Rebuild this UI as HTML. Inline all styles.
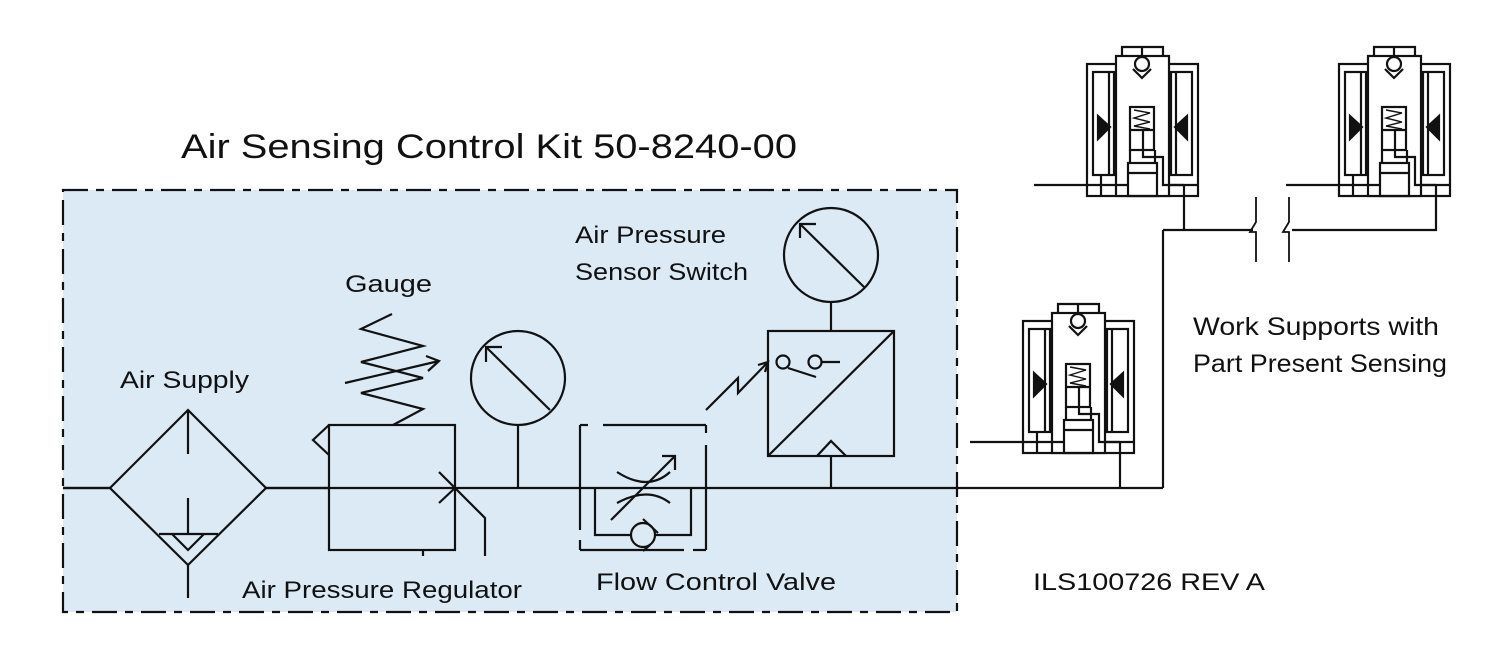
<!DOCTYPE html>
<html><head><meta charset="utf-8"><style>
html,body{margin:0;padding:0;background:#fff;}
svg{display:block;}
text{font-family:"Liberation Sans",sans-serif;fill:#111;}
</style></head><body>
<svg width="1500" height="655" viewBox="0 0 1500 655" xmlns="http://www.w3.org/2000/svg">
<defs>
<g id="ws" fill="none" stroke="#111" stroke-width="2.2">
  <polyline points="1122,56 1122,47 1163,47 1163,56"/>
  <line x1="1142" y1="47" x2="1142" y2="57"/>
  <rect x="1087" y="64" width="111" height="132"/>
  <rect x="1116" y="56" width="53" height="140" fill="#fff"/>
  <rect x="1093" y="72" width="21" height="103"/>
  <line x1="1109" y1="72" x2="1109" y2="175"/>
  <rect x="1171" y="72" width="21" height="103"/>
  <line x1="1176" y1="72" x2="1176" y2="175"/>
  <polygon points="1098,116 1110,127 1098,139" fill="#111"/>
  <polygon points="1187,116 1175,127 1187,139" fill="#111"/>
  <circle cx="1142" cy="64" r="7"/>
  <polyline points="1133,69 1142,78 1151,69"/>
  <rect x="1130" y="107" width="24" height="43"/>
  <line x1="1130" y1="130" x2="1154" y2="130"/>
  <polyline points="1134,110 1150,113 1134,118 1150,122 1134,126 1150,129" stroke-width="1.4"/>
  <rect x="1128" y="163" width="29" height="33"/>
  <line x1="1128" y1="173" x2="1157" y2="173"/>
  <line x1="1130" y1="150" x2="1130" y2="163"/>
  <line x1="1155" y1="150" x2="1155" y2="163"/>
  <polyline points="1143,130 1143,157 1163,157 1163,185 1184,185"/>
  <line x1="1101" y1="175" x2="1101" y2="196"/>
  <line x1="1087" y1="185" x2="1128" y2="185"/>
  <line x1="1169" y1="185" x2="1198" y2="185"/>
</g>
</defs>

<rect x="63" y="190" width="894" height="422" fill="#dceaf6" stroke="#111" stroke-width="2.2" stroke-dasharray="25,8,8,8"/>
<text x="181" y="158" font-size="34" textLength="616" lengthAdjust="spacingAndGlyphs">Air Sensing Control Kit 50-8240-00</text>

<g fill="none" stroke="#111" stroke-width="2.2">
  <line x1="63" y1="488" x2="1163" y2="488"/>
  <polygon points="188,410 266,488 188,565 110,488" fill="#dceaf6"/>
  <line x1="63" y1="488" x2="110" y2="488"/>
  <line x1="266" y1="488" x2="329" y2="488"/>
  <line x1="188" y1="410" x2="188" y2="454"/>
  <line x1="188" y1="498" x2="188" y2="534"/>
  <line x1="159" y1="534" x2="218" y2="534"/>
  <polyline points="172,534 188,550 204,534"/>
  <line x1="188" y1="565" x2="188" y2="598"/>
  <rect x="329" y="425" width="126" height="125"/>
  <polyline points="329,425 313,440 329,455"/>
  <polyline points="393,425 423,409 361,393 423,378 361,362 423,346 361,329 392,314"/>
  <line x1="345" y1="383" x2="439" y2="361"/>
  <polyline points="426,356 439,361 428,371"/>
  <polyline points="439,472 485,518 485,556"/>
  <line x1="439" y1="503" x2="455" y2="488"/>
  <line x1="423" y1="550" x2="423" y2="556"/>
  <circle cx="518" cy="378" r="47"/>
  <line x1="486" y1="347" x2="550" y2="410"/>
  <polyline points="486,362 486,347 502,347"/>
  <line x1="518" y1="425" x2="518" y2="488"/>
  <line x1="580" y1="425" x2="588" y2="425"/>
  <line x1="580" y1="425" x2="580" y2="530"/>
  <line x1="580" y1="540" x2="580" y2="550"/>
  <line x1="580" y1="550" x2="684" y2="550"/>
  <line x1="693" y1="550" x2="706" y2="550"/>
  <line x1="603" y1="425" x2="706" y2="425"/>
  <line x1="706" y1="425" x2="706" y2="433"/>
  <line x1="706" y1="445" x2="706" y2="550"/>
  <polyline points="595,488 595,535 691,535 691,488"/>
  <circle cx="643" cy="535" r="12" fill="#dceaf6"/>
  <line x1="643" y1="519" x2="658" y2="533"/>
  <line x1="643" y1="551" x2="650" y2="545"/>
  <path d="M617,472 Q648,492 670,472"/>
  <path d="M617,503 Q648,486 670,503"/>
  <line x1="611" y1="520" x2="675" y2="456"/>
  <polyline points="662,456 675,456 675,470"/>
  <rect x="768" y="331" width="126" height="125"/>
  <line x1="768" y1="456" x2="894" y2="331"/>
  <circle cx="831" cy="255" r="47"/>
  <line x1="800" y1="224" x2="864" y2="287"/>
  <polyline points="800,238 800,224 816,224"/>
  <line x1="831" y1="302" x2="831" y2="331"/>
  <polyline points="817,456 831,441 846,456"/>
  <line x1="831" y1="456" x2="831" y2="488"/>
  <circle cx="783" cy="362" r="6.5"/>
  <circle cx="815" cy="362" r="6.5"/>
  <line x1="821" y1="362" x2="840" y2="362"/>
  <line x1="788" y1="368" x2="816" y2="377"/>
  <polyline points="706,410 738,378 738,393 768,362"/>
  <polyline points="758,365 768,362 765,372"/>
  <use href="#ws"/>
  <use href="#ws" transform="translate(252,0)"/>
  <use href="#ws" transform="translate(-64,257)"/>
  <line x1="1034" y1="185" x2="1087" y2="185"/>
  <line x1="1286" y1="185" x2="1339" y2="185"/>
  <line x1="970" y1="442" x2="1023" y2="442"/>
  <polyline points="1184,185 1184,230"/>
  <polyline points="1436,185 1436,230 1292,230"/>
  <line x1="1163" y1="230" x2="1253" y2="230"/>
  <line x1="1163" y1="230" x2="1163" y2="488"/>
  <polyline points="1120,442 1120,488"/>
  <polyline points="1256,197 1256,222 1250,232 1256,232 1256,262" stroke-width="1.8"/>
  <polyline points="1289,197 1289,222 1283,232 1289,232 1289,262" stroke-width="1.8"/>
</g>

<g font-size="24">
  <text x="345" y="292" textLength="87" lengthAdjust="spacingAndGlyphs">Gauge</text>
  <text x="120" y="388" textLength="129" lengthAdjust="spacingAndGlyphs">Air Supply</text>
  <text x="575" y="243" textLength="151" lengthAdjust="spacingAndGlyphs">Air Pressure</text>
  <text x="575" y="280" textLength="173" lengthAdjust="spacingAndGlyphs">Sensor Switch</text>
  <text x="242" y="598" textLength="280" lengthAdjust="spacingAndGlyphs">Air Pressure Regulator</text>
  <text x="596" y="590" textLength="240" lengthAdjust="spacingAndGlyphs">Flow Control Valve</text>
  <text x="1193" y="335" font-size="25" textLength="246" lengthAdjust="spacingAndGlyphs">Work Supports with</text>
  <text x="1193" y="372" font-size="25" textLength="254" lengthAdjust="spacingAndGlyphs">Part Present Sensing</text>
  <text x="1033" y="590" textLength="232" lengthAdjust="spacingAndGlyphs">ILS100726  REV A</text>
</g>
</svg>
</body></html>
